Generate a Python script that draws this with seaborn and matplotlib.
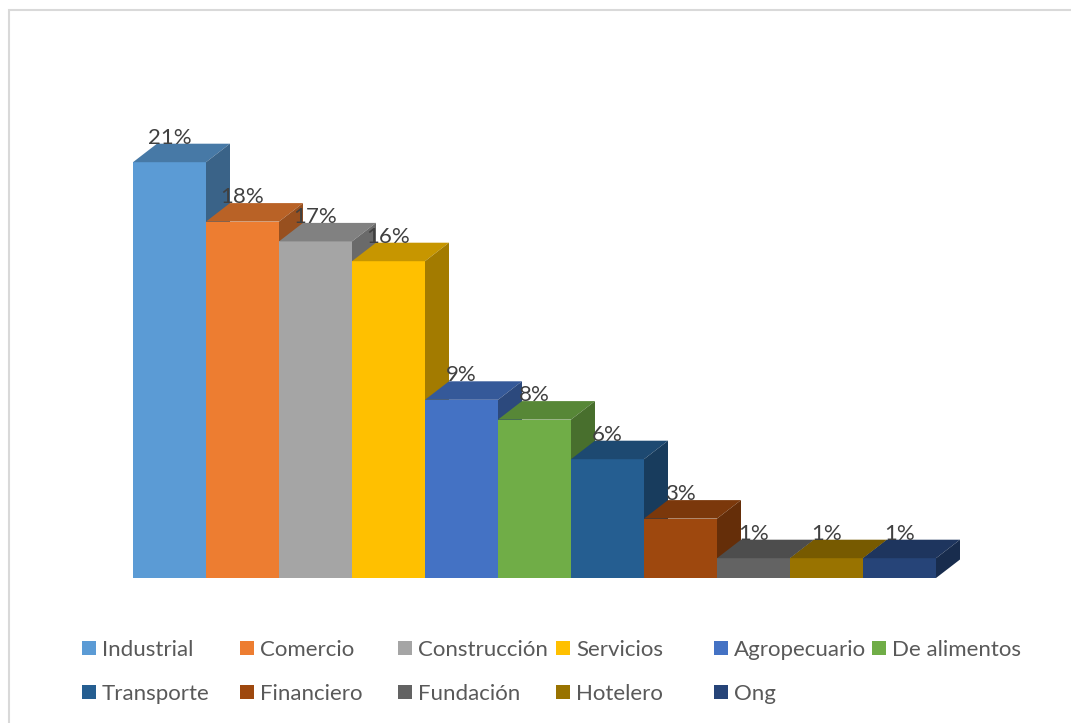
import matplotlib
matplotlib.use("Agg")
import matplotlib.pyplot as plt
from matplotlib.patches import Polygon, Rectangle
from matplotlib.colors import to_rgb
import seaborn as sns

# Share of companies by sector (%)
categories = ["Industrial", "Comercio", "Construcción", "Servicios", "Agropecuario",
              "De alimentos", "Transporte", "Financiero", "Fundación", "Hotelero", "Ong"]
values = [21, 18, 17, 16, 9, 8, 6, 3, 1, 1, 1]
colors = ["#5B9BD5", "#ED7D31", "#A5A5A5", "#FFC000", "#4472C4", "#70AD47",
          "#255E91", "#9E480E", "#636363", "#997300", "#264478"]

sns.set_theme(style="white")
plt.rcParams["font.family"] = ["Lato", "DejaVu Sans"]

W, H = 1071, 723
fig = plt.figure(figsize=(W / 100, H / 100), dpi=100)
ax = fig.add_axes([133 / W, 145 / H, 803 / W, 22 * 19.8 / H])

sns.barplot(x=categories, y=values, hue=categories, palette=colors, width=1.0,
            saturation=1, legend=False, dodge=False, ax=ax, zorder=3)
ax.set_xlim(-0.5, len(categories) - 0.5)
ax.set_ylim(0, 22)
ax.axis("off")

# Depth of the pseudo-3D extrusion, in data units
dx = 24 / 73
dy = 18.5 / 19.8


def shade(c, f):
    r, g, b = to_rgb(c)
    return (r * f, g * f, b * f)


bars = sorted(ax.patches, key=lambda p: p.get_x())
z = 3
for bar, col, val in zip(bars, colors, values):
    x0, w, h = bar.get_x(), bar.get_width(), bar.get_height()
    bar.set_zorder(z)
    bar.set_clip_on(False)
    bar.set_edgecolor("none")
    top = Polygon([(x0, h), (x0 + dx, h + dy), (x0 + w + dx, h + dy), (x0 + w, h)],
                  closed=True, facecolor=shade(col, 0.78), edgecolor="none",
                  zorder=z + 0.1, clip_on=False)
    side = Polygon([(x0 + w, 0), (x0 + w, h), (x0 + w + dx, h + dy), (x0 + w + dx, dy)],
                   closed=True, facecolor=shade(col, 0.64), edgecolor="none",
                   zorder=z + 0.2, clip_on=False)
    ax.add_patch(top)
    ax.add_patch(side)
    ax.text(x0 + w / 2, h + dy, f"{val}%", ha="center", va="baseline",
            fontsize=16, color="#404040", zorder=50, clip_on=False)
    z += 1

# Legend laid out in six evenly spaced columns, two rows
ncol = 6
col_x = [82 + 158 * i for i in range(ncol)]
for c in range(ncol):
    idx = [i for i in (c, c + ncol) if i < len(categories)]
    fig.legend([bars[i] for i in idx], [categories[i] for i in idx],
               loc="upper left", bbox_to_anchor=(col_x[c] / W, 1 - 640 / H),
               bbox_transform=fig.transFigure, frameon=False, fontsize=16,
               borderpad=0, borderaxespad=0, handlelength=0.63,
               handleheight=0.63, handletextpad=0.27, labelspacing=1.07,
               labelcolor="#595959")

# Light outer frame
fig.add_artist(Rectangle((8.5 / W, -0.1), 1.2, 1.1 - 10.5 / H, transform=fig.transFigure,
                         fill=False, edgecolor="#D9D9D9", linewidth=1.5))

fig.savefig("out.png", dpi=100, facecolor="white")
